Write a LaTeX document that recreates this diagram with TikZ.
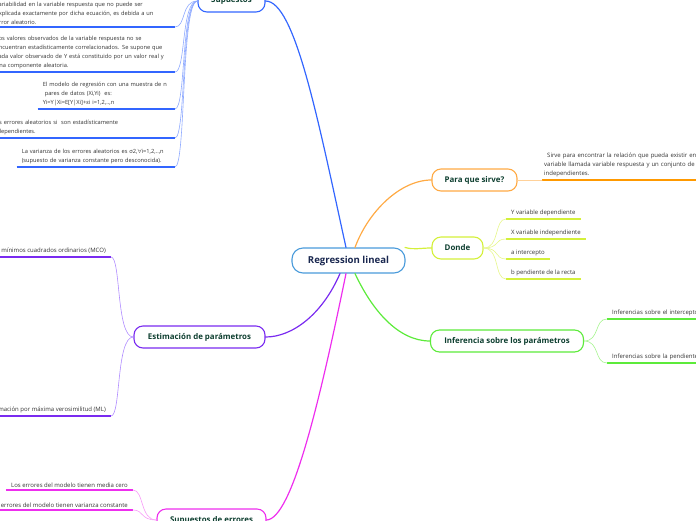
\documentclass[tikz,border=0pt]{standalone}
\usepackage{fontspec}
\setmainfont{Open Sans}

\definecolor{topicink}{HTML}{0E3F30}
\definecolor{rootink}{HTML}{1A2850}
\definecolor{rootline}{HTML}{4A9BDB}
\definecolor{supblue}{HTML}{3366FF}
\definecolor{suplight}{HTML}{8FAAFF}
\definecolor{paraorange}{HTML}{FFAA44}
\definecolor{paradeep}{HTML}{FF9900}
\definecolor{paralight}{HTML}{FFD199}
\definecolor{dondelime}{HTML}{D4F03A}
\definecolor{dondelight}{HTML}{E6F68A}
\definecolor{infgreen}{HTML}{5CEB3A}
\definecolor{inflight}{HTML}{A6F48F}
\definecolor{estpurple}{HTML}{7A2BF0}
\definecolor{estlight}{HTML}{B08CFF}
\definecolor{errmagenta}{HTML}{EE2EEE}
\definecolor{errlight}{HTML}{F79CF7}

\begin{document}
\begin{tikzpicture}[
  x=1pt, y=-1pt,
  line cap=round,
  line join=round,
  font=\fontsize{6}{9}\selectfont,
  topic/.style={draw, fill=white, line width=1.1pt, rounded corners=9pt, minimum height=22pt, inner xsep=0pt, text=topicink, font=\fontsize{7.9}{9}\selectfont\bfseries},
  leaf/.style={inner xsep=5pt, inner ysep=2.5pt, align=left, text=black!80},
  supleaf/.style={leaf, anchor=south east, font=\fontsize{5.7}{9}\selectfont},
  branch/.style={line width=1.2pt},
  twig/.style={line width=0.6pt},
  underl/.style={line width=1.8pt, line cap=butt}
]

\useasboundingbox (0,0) rectangle (696,520);

% Central topic.
\node[topic, draw=rootline, text=rootink, minimum width=113pt, minimum height=25pt,
  rounded corners=11pt, font=\fontsize{9.6}{10}\selectfont\bfseries] (root) at (348.5,260.5) {Regression lineal};

% Main topics.
\node[topic, draw=supblue, minimum width=67pt] (sup) at (231.5,1) {Supuestos};
\node[topic, draw=paraorange, minimum width=85pt] (para) at (474.5,180) {Para que sirve?};
\node[topic, draw=dondelime, minimum width=51pt] (donde) at (457.5,248) {Donde};
\node[topic, draw=infgreen, minimum width=153pt] (inf) at (507,341) {Inferencia sobre los parámetros};
\node[topic, draw=estpurple, minimum width=131pt] (est) at (199.5,337) {Estimación de parámetros};
\node[topic, draw=errmagenta, minimum width=109pt] (err) at (211.5,520) {Supuestos de errores};

% Branches from the central topic.
\draw[branch, supblue] ([xshift=-2.5pt]root.north) .. controls (318,120) and (295,1) .. (sup.east);
\draw[branch, paraorange] ([xshift=6.5pt]root.north) .. controls (368,212) and (400,180) .. (para.west);
\draw[branch, dondelime] (root.13) .. controls (414,250) and (420,248) .. (donde.west);
\draw[branch, infgreen] ([xshift=6.5pt]root.south) .. controls (372,310) and (398,341) .. (inf.west);
\draw[branch, estpurple] ([xshift=-8.5pt]root.south) .. controls (322,315) and (292,337) .. (est.east);
\draw[branch, errmagenta] ([xshift=-2.5pt]root.south) .. controls (320,400) and (292,519) .. (err.east);

% Supuestos details.
\node[supleaf, text width=174pt] (s1) at (175,27)
  {variabilidad en la variable respuesta que no puede ser\\explicada exactamente por dicha ecuación, es debida a un\\error aleatorio.};
\node[supleaf, text width=174pt] (s2) at (175,72)
  {Los valores observados de la variable respuesta no se\\encuentran estadísticamente correlacionados. Se supone que\\cada valor observado de Y está constituido por un valor real y\\una componente aleatoria.};
\node[supleaf, text width=127pt] (s3) at (175,109)
  {El modelo de regresión con una muestra de n\\\hspace*{2pt}pares de datos (Xi,Yi)\ \ es:\\Yi=Y|Xi=E[Y|Xi]+εi i=1,2,..,n};
\node[supleaf, text width=177pt] (s4) at (175,138)
  {Los errores aleatorios si\ \ son estadísticamente\\independientes.};
\node[supleaf, text width=148pt] (s5) at (175,167)
  {La varianza de los errores aleatorios es σ2,$\forall$i=1,2,..,n\\(supuesto de varianza constante pero desconocida).};
\foreach \n in {s1,s2,s3,s4,s5}{
  \draw[underl, supblue] (\n.south west) -- (\n.south east);
  \draw[twig, suplight] (sup.west) .. controls (181,1) and (186,0 |- \n.south east) .. (\n.south east);
}

% Para que sirve? detail.
\node[leaf, anchor=south west, text width=260pt, inner xsep=2pt] (p1) at (542,180)
  {\hspace*{3pt}Sirve para encontrar la relación que pueda existir entre una\\variable llamada variable respuesta y un conjunto de variables\\independientes.};
\draw[underl, paradeep] (p1.south west) -- (p1.south east);
\draw[twig, paralight] (para.east) -- (p1.south west);

% Donde details.
\node[leaf, anchor=south west] (d1) at (506,219) {Y variable dependiente};
\node[leaf, anchor=south west] (d2) at (506,239) {X variable independiente};
\node[leaf, anchor=south west] (d3) at (506,259) {a intercepto};
\node[leaf, anchor=south west] (d4) at (506,279) {b pendiente de la recta};

% Inferencia details.
\node[leaf, anchor=south west, text width=120pt] (i1) at (607,319) {Inferencias sobre el intercepto};
\node[leaf, anchor=south west, text width=120pt] (i2) at (607,363) {Inferencias sobre la pendiente};

% Estimacion details.
\node[leaf, anchor=south east] (e1) at (111,257) {Estimación por mínimos cuadrados ordinarios (MCO)};
\node[leaf, anchor=south east] (e2) at (111,416) {Estimación por máxima verosimilitud (ML)};

% Supuestos de errores details.
\node[leaf, anchor=south east] (r1) at (133,490) {Los errores del modelo tienen media cero};
\node[leaf, anchor=south east] (r2) at (133,510) {Los errores del modelo tienen varianza constante};

\foreach \n in {d1,d2,d3,d4}{
  \draw[underl, dondelime] (\n.south west) -- (\n.south east);
  \draw[twig, dondelight] (donde.east) .. controls (500,248) and (494,0 |- \n.south west) .. (\n.south west);
}
\foreach \n in {i1,i2}{
  \draw[underl, infgreen] (\n.south west) -- (\n.south east);
  \draw[twig, inflight] (inf.east) .. controls (600,341) and (594,0 |- \n.south west) .. (\n.south west);
}
\foreach \n in {e1,e2}{
  \draw[underl, estpurple] (\n.south west) -- (\n.south east);
  \draw[twig, estlight] (est.west) .. controls (116,337) and (121,0 |- \n.south east) .. (\n.south east);
}
\foreach \n in {r1,r2}{
  \draw[underl, errmagenta] (\n.south west) -- (\n.south east);
  \draw[twig, errlight] (err.west) .. controls (140,520) and (144,0 |- \n.south east) .. (\n.south east);
}

\end{tikzpicture}
\end{document}
